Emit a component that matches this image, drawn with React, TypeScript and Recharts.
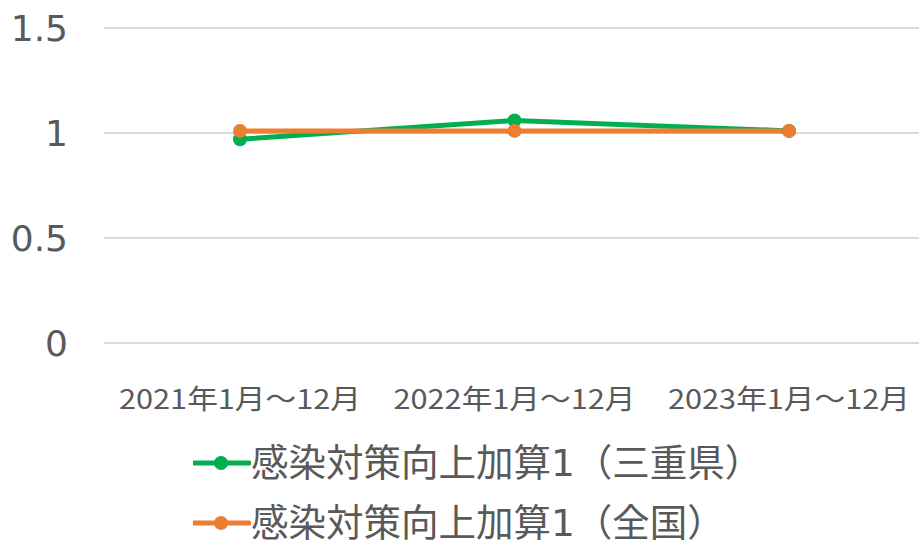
import React from 'react'
import { LineChart, Line, XAxis, YAxis, CartesianGrid, Legend } from 'recharts'

const categories = ['2021年1月～12月', '2022年1月～12月', '2023年1月～12月']
const mieValues = [0.97, 1.06, 1.01]
const nationalValues = [1.01, 1.01, 1.01]
const yTicks = [0, 0.5, 1, 1.5]

const SERIES = [
  { key: 'mie', name: '感染対策向上加算1（三重県）', color: '#00B050' },
  { key: 'national', name: '感染対策向上加算1（全国）', color: '#ED7D31' },
]

const data = categories.map((name, i) => ({
  name,
  mie: mieValues[i],
  national: nationalValues[i],
}))

const FONT = '"DejaVu Sans", "Noto Sans CJK JP", sans-serif'
const TEXT = '#595959'
const GRID = '#D9D9D9'

const XTick = ({ x, y, payload }: any) => (
  <text
    x={x}
    y={y + 46}
    textAnchor="middle"
    dominantBaseline="central"
    fontSize={27}
    fontFamily='"Noto Sans CJK JP", sans-serif'
    fill={TEXT}
    textLength={242}
    lengthAdjust="spacingAndGlyphs"
  >
    {payload.value}
  </text>
)

const LegendContent = ({ payload }: any) => (
  <div>
    {(payload || []).map((p: any) => (
      <div key={p.value} style={{ display: 'flex', alignItems: 'center', height: 60 }}>
        <svg width={58} height={20} style={{ marginRight: 0 }}>
          <line x1={1} y1={10} x2={56} y2={10} stroke={p.color} strokeWidth={5} strokeLinecap="round" />
          <circle cx={28} cy={10} r={7} fill={p.color} />
        </svg>
        <span style={{ fontSize: 37.5, fontFamily: FONT, color: TEXT, whiteSpace: 'nowrap', lineHeight: '44px' }}>{p.value}</span>
      </div>
    ))}
  </div>
)

const App = () => {
  return (
    <div style={{ position: 'absolute', left: 0, top: 0 }}>
      <LineChart width={919} height={540} data={data} margin={{ top: 28, right: 0, left: 0, bottom: 167 }}>
        <CartesianGrid vertical={false} stroke={GRID} strokeWidth={2} />
        <XAxis
          dataKey="name"
          interval={0}
          height={30}
          padding={{ left: 136, right: 130 }}
          tickLine={false}
          axisLine={{ stroke: GRID, strokeWidth: 2 }}
          tick={<XTick />}
        />
        <YAxis
          width={104}
          domain={[0, 1.5]}
          ticks={yTicks}
          axisLine={false}
          tickLine={false}
          tickSize={0}
          tickMargin={36}
          tick={{ fontSize: 36, fontFamily: FONT, fill: TEXT }}
        />
        {SERIES.map((s) => (
          <Line
            key={s.key}
            dataKey={s.key}
            name={s.name}
            stroke={s.color}
            strokeWidth={5}
            dot={{ r: 7, fill: s.color, stroke: s.color, strokeWidth: 0 }}
            activeDot={false}
            isAnimationActive={false}
          />
        ))}
        <Legend
          layout="vertical"
          align="center"
          verticalAlign="middle"
          wrapperStyle={{ left: 193, top: 433 }}
          content={<LegendContent />}
        />
      </LineChart>
    </div>
  )
}

export default App
